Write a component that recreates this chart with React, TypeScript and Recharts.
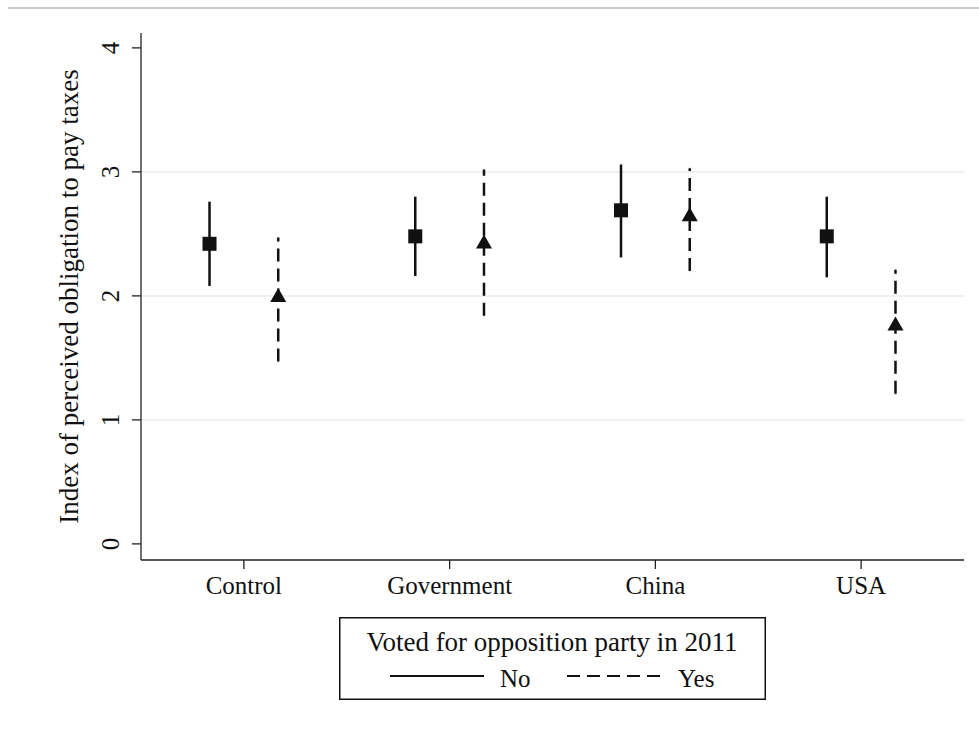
import React from "react";
import {
  ErrorBar,
  Legend,
  ReferenceLine,
  Scatter,
  ScatterChart,
  XAxis,
  YAxis,
  Label,
} from "recharts";

// values: means and 95% CI bounds by treatment group
const categories = ["Control", "Government", "China", "USA"];
const noMean = [2.42, 2.48, 2.69, 2.48];
const noLow = [2.08, 2.16, 2.31, 2.15];
const noHigh = [2.76, 2.8, 3.06, 2.8];
const yesMean = [2.0, 2.43, 2.65, 1.77];
const yesLow = [1.47, 1.84, 2.2, 1.21];
const yesHigh = [2.47, 3.02, 3.03, 2.21];
const yTicks = [0, 1, 2, 3, 4];
const gridValues = [1, 2, 3];

const FONT = '"Liberation Serif", "Times New Roman", serif';
const INK = "#111";
const DASH = "13 7";

function buildSeries(mean: number[], low: number[], high: number[], shift: number) {
  return categories.map((name, i) => ({
    name,
    x: i + 1 + shift,
    y: mean[i],
    err: [mean[i] - low[i], high[i] - mean[i]],
  }));
}

const noData = buildSeries(noMean, noLow, noHigh, -0.167);
const yesData = buildSeries(yesMean, yesLow, yesHigh, 0.167);

const SquareMark = (props: any) => {
  const { cx, cy } = props;
  return <rect x={cx - 7} y={cy - 7} width={14} height={14} fill={INK} />;
};

const TriangleMark = (props: any) => {
  const { cx, cy } = props;
  return (
    <polygon
      points={`${cx},${cy - 8} ${cx + 8},${cy + 6} ${cx - 8},${cy + 6}`}
      fill={INK}
    />
  );
};

const XTick = (props: any) => {
  const { x, y, payload } = props;
  return (
    <text x={x} y={y + 23} textAnchor="middle" fontFamily={FONT} fontSize={25} fill={INK}>
      {categories[payload.value - 1]}
    </text>
  );
};

const YTick = (props: any) => {
  const { x, y, payload } = props;
  const tx = x - 11;
  return (
    <text
      x={tx}
      y={y}
      transform={`rotate(-90 ${tx} ${y})`}
      textAnchor="middle"
      fontFamily={FONT}
      fontSize={25}
      fill={INK}
    >
      {payload.value}
    </text>
  );
};

const LegendBox = () => (
  <svg width={427} height={83} style={{ display: "block" }}>
    <rect x={0.75} y={0.75} width={425.5} height={81.5} fill="#fff" stroke={INK} strokeWidth={1.5} />
    <text x={213} y={34} textAnchor="middle" fontFamily={FONT} fontSize={27} fill={INK}>
      Voted for opposition party in 2011
    </text>
    <line x1={51} x2={145} y1={59} y2={59} stroke={INK} strokeWidth={2} />
    <text x={161} y={70} fontFamily={FONT} fontSize={25} fill={INK}>
      No
    </text>
    <line x1={228} x2={323} y1={59} y2={59} stroke={INK} strokeWidth={2} strokeDasharray={DASH} />
    <text x={339} y={70} fontFamily={FONT} fontSize={25} fill={INK}>
      Yes
    </text>
  </svg>
);

export default function App() {
  return (
    <div style={{ position: "absolute", left: 0, top: 0, width: 979, height: 729, background: "#fff" }}>
      <div style={{ position: "absolute", left: 8, top: 7, width: 971, height: 2, background: "#c8c8c8" }} />
      <ScatterChart
        width={979}
        height={729}
        margin={{ top: 33, right: 15, bottom: 129, left: 81 }}
      >
        {gridValues.map((v) => (
          <ReferenceLine key={v} y={v} stroke="#e6edf2" strokeWidth={1.5} />
        ))}
        <XAxis
          type="number"
          dataKey="x"
          domain={[0.5, 4.5]}
          ticks={[1, 2, 3, 4]}
          allowDataOverflow
          height={40}
          tickSize={9}
          tickMargin={2}
          tick={<XTick />}
          axisLine={{ stroke: "#222", strokeWidth: 1.3 }}
          tickLine={{ stroke: "#222", strokeWidth: 1.3 }}
        />
        <YAxis
          type="number"
          dataKey="y"
          domain={[-0.13, 4.12]}
          ticks={yTicks}
          allowDataOverflow
          width={60}
          tickSize={9}
          tickMargin={2}
          tick={<YTick />}
          axisLine={{ stroke: "#222", strokeWidth: 1.3 }}
          tickLine={{ stroke: "#222", strokeWidth: 1.3 }}
        >
          <Label
            content={(p: any) => {
              const vb = p.viewBox;
              const lx = vb.x - 3;
              const ly = vb.y + vb.height / 2;
              return (
                <text
                  x={lx}
                  y={ly}
                  transform={`rotate(-90 ${lx} ${ly})`}
                  textAnchor="middle"
                  fontFamily={FONT}
                  fontSize={27}
                  fill={INK}
                >
                  Index of perceived obligation to pay taxes
                </text>
              );
            }}
          />
        </YAxis>
        <Scatter name="No" data={noData} shape={<SquareMark />} isAnimationActive={false}>
          <ErrorBar dataKey="err" direction="y" width={0} stroke={INK} strokeWidth={2.5} isAnimationActive={false} />
        </Scatter>
        <Scatter name="Yes" data={yesData} shape={<TriangleMark />} isAnimationActive={false}>
          <ErrorBar
            dataKey="err"
            direction="y"
            width={0}
            stroke={INK}
            strokeWidth={2.5}
            strokeDasharray={DASH}
            isAnimationActive={false}
          />
        </Scatter>
        <Legend
          layout="horizontal"
          align="center"
          verticalAlign="middle"
          content={() => <LegendBox />}
          wrapperStyle={{ position: "absolute", left: 339, top: 617, width: 427, height: 83, bottom: "auto" }}
        />
      </ScatterChart>
    </div>
  );
}
